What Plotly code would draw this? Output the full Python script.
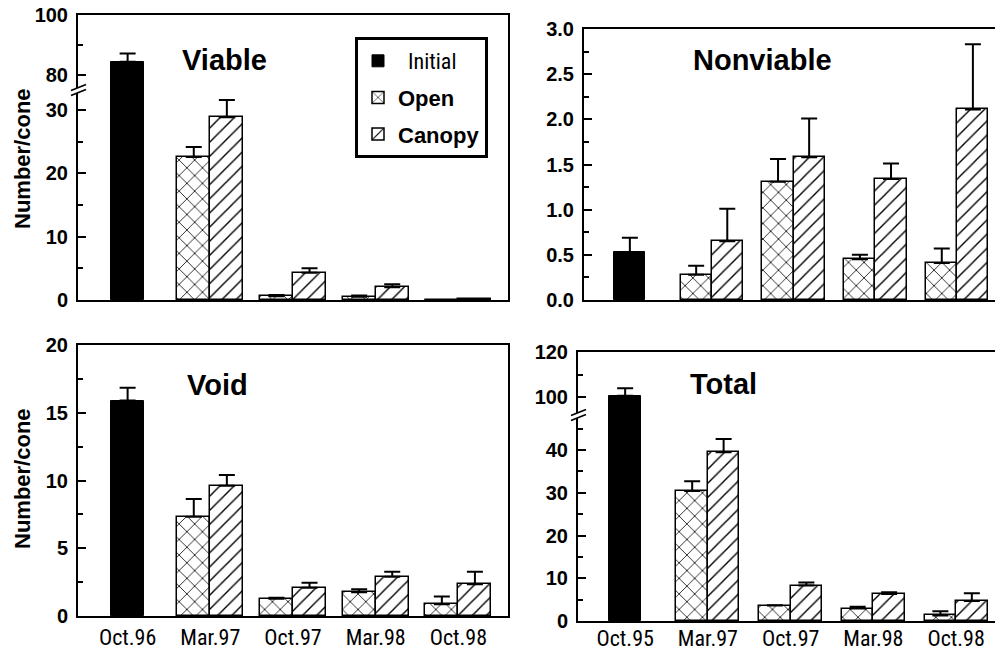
import plotly.graph_objects as go

W, H = 995, 652

# ---------------- data ----------------
initial_pos = [0]
later_pos = [1, 2, 3, 4]
tick_positions = [0, 1, 2, 3, 4]
dates_void = ["Oct.96", "Mar.97", "Oct.97", "Mar.98", "Oct.98"]
dates_total = ["Oct.95", "Mar.97", "Oct.97", "Mar.98", "Oct.98"]

viable_initial = [84.4]
viable_initial_err = [2.8]
viable_open = [22.6, 0.6, 0.5, 0.0]
viable_open_err = [1.6, 0.2, 0.2, 0.0]
viable_canopy = [28.9, 4.3, 2.0, 0.1]
viable_canopy_err = [2.7, 0.7, 0.5, 0.0]

nonviable_initial = [0.53]
nonviable_initial_err = [0.16]
nonviable_open = [0.28, 1.31, 0.45, 0.41]
nonviable_open_err = [0.10, 0.25, 0.05, 0.16]
nonviable_canopy = [0.65, 1.58, 1.34, 2.11]
nonviable_canopy_err = [0.36, 0.43, 0.17, 0.72]

void_initial = [15.9]
void_initial_err = [0.95]
void_open = [7.33, 1.28, 1.75, 0.86]
void_open_err = [1.3, 0.07, 0.22, 0.57]
void_canopy = [9.62, 2.09, 2.9, 2.34]
void_canopy_err = [0.78, 0.37, 0.37, 0.93]

total_initial = [100.6]
total_initial_err = [3.4]
total_open = [30.4, 3.6, 2.9, 1.3]
total_open_err = [2.3, 0.1, 0.45, 1.0]
total_canopy = [39.5, 8.3, 6.3, 4.7]
total_canopy_err = [3.1, 0.7, 0.4, 1.8]

series_names = ["Initial", "Open", "Canopy"]

# ---------------- helpers ----------------
def fx(px):
    return px / W

def fy(py):
    return 1 - py / H

BOLD = "Liberation Sans, Arial, sans-serif"
NARROW = "Roboto Condensed, Liberation Sans, sans-serif"

fig = go.Figure()


def err(vals):
    return dict(type="data", symmetric=False, array=vals, arrayminus=[0] * len(vals),
                color="black", thickness=2, width=8)


def add_panel(pairs, ini, ini_e, opn, opn_e, can, can_e, bw, legend=False):
    for k, (xa, ya) in enumerate(pairs):
        show = legend and k == 0
        fig.add_trace(go.Bar(
            x=initial_pos, y=ini, error_y=err(ini_e), xaxis=xa, yaxis=ya,
            width=bw, offset=-bw / 2,
            marker=dict(color="black", line=dict(color="black", width=1)),
            name=('<span style="font-family:\'Roboto Condensed\';font-weight:normal;'
                  'font-size:22px">&nbsp;&nbsp;' + series_names[0] + '</span>'),
            legendgroup="initial", showlegend=show))
        fig.add_trace(go.Bar(
            x=later_pos, y=opn, error_y=err(opn_e), xaxis=xa, yaxis=ya,
            width=bw, offset=-bw,
            marker=dict(color="white", line=dict(color="black", width=1.5),
                        pattern=dict(shape="x", fgcolor="black", bgcolor="white",
                                     size=11, solidity=0.14)),
            name=series_names[1], legendgroup="open", showlegend=show))
        fig.add_trace(go.Bar(
            x=later_pos, y=can, error_y=err(can_e), xaxis=xa, yaxis=ya,
            width=bw, offset=0,
            marker=dict(color="white", line=dict(color="black", width=1.5),
                        pattern=dict(shape="/", fgcolor="black", bgcolor="white",
                                     size=10, solidity=0.14)),
            name=series_names[2], legendgroup="canopy", showlegend=show))


add_panel([("x", "y"), ("x2", "y2")], viable_initial, viable_initial_err,
          viable_open, viable_open_err, viable_canopy, viable_canopy_err, 0.4, legend=True)
add_panel([("x3", "y3")], nonviable_initial, nonviable_initial_err,
          nonviable_open, nonviable_open_err, nonviable_canopy, nonviable_canopy_err, 0.38)
add_panel([("x4", "y4")], void_initial, void_initial_err,
          void_open, void_open_err, void_canopy, void_canopy_err, 0.4)
add_panel([("x5", "y5"), ("x6", "y6")], total_initial, total_initial_err,
          total_open, total_open_err, total_canopy, total_canopy_err, 0.38)

tickfont = dict(family=BOLD, size=20, color="black", weight="bold")
xtickfont = dict(family=NARROW, size=22, color="black")


def yax(domain, rng, tickvals, minor_dtick, mirror, anchor, fmt=None):
    d = dict(domain=domain, range=rng, tickvals=tickvals, anchor=anchor,
             showline=True, linecolor="black", linewidth=2, mirror=mirror,
             ticks="inside", ticklen=8, tickwidth=1.5, tickcolor="black",
             tickfont=tickfont, showgrid=False, zeroline=False, automargin=False,
             ticklabelstandoff=4,
             minor=dict(dtick=minor_dtick, tick0=0, ticks="inside", ticklen=5,
                        tickwidth=1.5, tickcolor="black", showgrid=False))
    if fmt:
        d["tickformat"] = fmt
    return d


def xax(domain, rng, anchor, labels=None, mirror=False, side="bottom", matches=None,
        standoff=0):
    d = dict(domain=domain, range=rng, anchor=anchor, side=side,
             showline=True, linecolor="black", linewidth=2, mirror=mirror,
             ticks="", showgrid=False, zeroline=False, automargin=False,
             tickvals=tick_positions, showticklabels=labels is not None)
    if labels is not None:
        d["ticktext"] = labels
        d["tickfont"] = xtickfont
        d["ticklabelstandoff"] = standoff
    if matches:
        d["matches"] = matches
    return d


left_dom = [fx(78), fx(508)]
fig.update_layout(
    xaxis=xax(left_dom, [-0.6, 4.6], "y"),
    yaxis=yax([fy(300), fy(90)], [0, 33.2], [0, 10, 20, 30], 5, True, "x"),
    xaxis2=xax(left_dom, [-0.6, 4.6], "y2", side="top", matches="x"),
    yaxis2=yax([fy(90), fy(15)], [75, 100], [80, 100], 10, True, "x2"),
    xaxis3=xax([fx(584), 1.0], [-0.56, 4.46], "y3", mirror=True),
    yaxis3=yax([fy(300), fy(29)], [0, 3.0], [0, 0.5, 1.0, 1.5, 2.0, 2.5, 3.0], 0.25,
               False, "x3", fmt=".1f"),
    xaxis4=xax(left_dom, [-0.6, 4.6], "y4", labels=dates_void, mirror=True, standoff=1),
    yaxis4=yax([fy(616), fy(345)], [0, 20], [0, 5, 10, 15, 20], 2.5, True, "x4"),
    xaxis5=xax([fx(578), 1.0], [-0.57, 4.47], "y5", labels=dates_total, standoff=-3),
    yaxis5=yax([fy(621), fy(415)], [0, 48.2], [0, 10, 20, 30, 40], 5, False, "x5"),
    xaxis6=xax([fx(578), 1.0], [-0.57, 4.47], "y6", side="top", matches="x5"),
    yaxis6=yax([fy(415), fy(352)], [92.1, 120], [100, 120], 10, False, "x6"),
)

fig.update_layout(
    width=W, height=H, template="none",
    margin=dict(l=0, r=0, t=0, b=0),
    paper_bgcolor="white", plot_bgcolor="rgba(0,0,0,0)",
    barmode="overlay", bargap=0,
    showlegend=True,
    legend=dict(x=fx(355), y=fy(37), xanchor="left", yanchor="top",
                bgcolor="white", bordercolor="black", borderwidth=3,
                font=dict(family=BOLD, size=22, color="black", weight="bold"),
                tracegroupgap=5, traceorder="grouped"),
)

# panel titles and axis titles
title_font = dict(family=BOLD, size=29, color="black", weight="bold")
for txt, px, py in [("Viable", 224, 60), ("Nonviable", 762, 60),
                    ("Void", 217, 385), ("Total", 723, 384)]:
    fig.add_annotation(text=txt, x=fx(px), y=fy(py), xref="paper", yref="paper",
                       showarrow=False, font=title_font, xanchor="center", yanchor="middle")
for py in [159, 479]:
    fig.add_annotation(text="Number/cone", x=fx(22), y=fy(py), xref="paper", yref="paper",
                       showarrow=False, textangle=-90,
                       font=dict(family=BOLD, size=22, color="black", weight="bold"),
                       xanchor="center", yanchor="middle")

# axis break marks
def brk(ax_px, by):
    fig.add_shape(type="path", xref="paper", yref="paper",
                  path=f"M {fx(ax_px-4)},{fy(by+4)} L {fx(ax_px+4)},{fy(by+1)} "
                       f"L {fx(ax_px+4)},{fy(by-4)} L {fx(ax_px-4)},{fy(by-1)} Z",
                  fillcolor="white", line=dict(width=0))
    for off in (-2.5, 2.5):
        fig.add_shape(type="line", xref="paper", yref="paper",
                      x0=fx(ax_px - 7), y0=fy(by + off + 3),
                      x1=fx(ax_px + 8), y1=fy(by + off - 3),
                      line=dict(color="black", width=1.8))

brk(78, 90)
brk(578, 415)

fig.write_html("out.html", config={"displayModeBar": False},
               post_script="document.body.style.margin='0';document.body.style.overflow='hidden';")
